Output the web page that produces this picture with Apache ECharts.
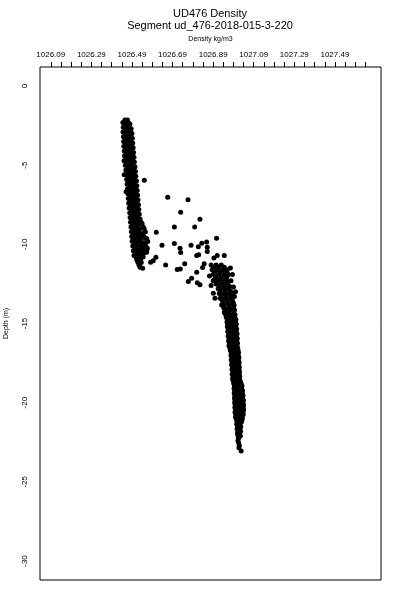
<!DOCTYPE html>
<html><head><meta charset="utf-8">
<script src="https://cdn.jsdelivr.net/npm/echarts@6/dist/echarts.min.js"></script>
<style>html,body{margin:0;padding:0;background:#fff}#c{width:400px;height:600px}</style>
</head><body><div id="c"></div>
<script>
const titleText = 'UD476 Density';
const subtitleText = 'Segment ud_476-2018-015-3-220';
const xName = 'Density kg/m3';
const yName = 'Depth (m)';
const xRange = [1026.037, 1027.717];
const yRange = [-31.2, 1.2];
const xTickValues = [1026.09,1026.14,1026.19,1026.24,1026.29,1026.34,1026.39,1026.44,1026.49,1026.54,1026.59,1026.64,1026.69,1026.74,1026.79,1026.84,1026.89,1026.94,1026.99,1027.04,1027.09,1027.14,1027.19,1027.24,1027.29,1027.34,1027.39,1027.44,1027.49,1027.54,1027.59,1027.64];
const xLabelValues = [1026.09,1026.29,1026.49,1026.69,1026.89,1027.09,1027.29,1027.49];
const yLabelValues = [0,-5,-10,-15,-20,-25,-30];

// [density, depth]
const upperStrand = [
[1026.455,-2.15],[1026.468,-2.15],
[1026.451,-2.30],[1026.463,-2.30],[1026.472,-2.30],
[1026.456,-2.45],[1026.469,-2.45],
[1026.452,-2.60],[1026.465,-2.60],[1026.475,-2.60],
[1026.457,-2.75],[1026.470,-2.75],[1026.481,-2.75],
[1026.452,-2.90],[1026.464,-2.90],[1026.478,-2.90],
[1026.458,-3.05],[1026.471,-3.05],[1026.484,-3.05],
[1026.453,-3.20],[1026.466,-3.20],[1026.480,-3.20],
[1026.459,-3.35],[1026.473,-3.35],[1026.485,-3.35],
[1026.454,-3.50],[1026.468,-3.50],[1026.482,-3.50],
[1026.460,-3.65],[1026.474,-3.65],[1026.488,-3.65],
[1026.456,-3.80],[1026.470,-3.80],[1026.484,-3.80],
[1026.462,-3.95],[1026.476,-3.95],[1026.490,-3.95],
[1026.458,-4.10],[1026.472,-4.10],[1026.487,-4.10],
[1026.463,-4.25],[1026.478,-4.25],[1026.492,-4.25],
[1026.459,-4.40],[1026.474,-4.40],[1026.489,-4.40],
[1026.465,-4.55],[1026.480,-4.55],[1026.493,-4.55],
[1026.461,-4.70],[1026.476,-4.70],[1026.491,-4.70],
[1026.468,-4.85],[1026.482,-4.85],[1026.496,-4.85],
[1026.464,-5.00],[1026.478,-5.00],[1026.493,-5.00],
[1026.470,-5.15],[1026.484,-5.15],[1026.498,-5.15],
[1026.466,-5.30],[1026.480,-5.30],[1026.495,-5.30],
[1026.472,-5.45],[1026.486,-5.45],[1026.500,-5.45],
[1026.468,-5.60],[1026.482,-5.60],[1026.497,-5.60],
[1026.474,-5.75],[1026.488,-5.75],[1026.502,-5.75],
[1026.470,-5.90],[1026.485,-5.90],[1026.499,-5.90],
[1026.476,-6.05],[1026.490,-6.05],[1026.505,-6.05],
[1026.472,-6.20],[1026.487,-6.20],[1026.502,-6.20],
[1026.478,-6.35],[1026.492,-6.35],[1026.507,-6.35],
[1026.474,-6.50],[1026.489,-6.50],[1026.504,-6.50],
[1026.480,-6.65],[1026.494,-6.65],[1026.509,-6.65],
[1026.476,-6.80],[1026.491,-6.80],[1026.506,-6.80],
[1026.482,-6.95],[1026.496,-6.95],[1026.511,-6.95],
[1026.478,-7.10],[1026.493,-7.10],[1026.508,-7.10],
[1026.484,-7.25],[1026.498,-7.25],[1026.513,-7.25],
[1026.480,-7.40],[1026.495,-7.40],[1026.510,-7.40],
[1026.486,-7.55],[1026.500,-7.55],[1026.515,-7.55],
[1026.482,-7.70],[1026.497,-7.70],[1026.512,-7.70],
[1026.488,-7.85],[1026.502,-7.85],[1026.517,-7.85],
[1026.485,-8.00],[1026.499,-8.00],[1026.514,-8.00],
[1026.490,-8.15],[1026.504,-8.15],[1026.518,-8.15],
[1026.487,-8.30],[1026.501,-8.30],[1026.516,-8.30],
[1026.492,-8.45],[1026.506,-8.45],[1026.520,-8.45],
[1026.489,-8.60],[1026.503,-8.60],[1026.518,-8.60],[1026.535,-8.60],
[1026.494,-8.75],[1026.508,-8.75],[1026.523,-8.75],
[1026.491,-8.90],[1026.506,-8.90],[1026.520,-8.90],[1026.545,-8.90],
[1026.496,-9.05],[1026.511,-9.05],[1026.527,-9.05],
[1026.493,-9.20],[1026.508,-9.20],[1026.524,-9.20],[1026.556,-9.20],
[1026.498,-9.35],[1026.513,-9.35],[1026.530,-9.35],
[1026.495,-9.50],[1026.510,-9.50],[1026.527,-9.50],[1026.548,-9.50],
[1026.500,-9.65],[1026.516,-9.65],[1026.534,-9.65],[1026.563,-9.65],
[1026.497,-9.80],[1026.513,-9.80],[1026.530,-9.80],
[1026.503,-9.95],[1026.519,-9.95],[1026.540,-9.95],[1026.555,-9.95],
[1026.500,-10.10],[1026.516,-10.10],[1026.533,-10.10],
[1026.505,-10.25],[1026.522,-10.25],[1026.545,-10.25],[1026.566,-10.25],
[1026.503,-10.40],[1026.519,-10.40],[1026.537,-10.40],
[1026.508,-10.55],[1026.525,-10.55],[1026.550,-10.55],
[1026.506,-10.70],[1026.522,-10.70],[1026.538,-10.70],
[1026.512,-10.85],[1026.528,-10.85],
[1026.515,-11.00],[1026.532,-11.00],
[1026.520,-11.15],[1026.536,-11.15],
[1026.525,-11.30],
[1026.530,-11.45]
];

const upperLeftEdge = [
[1026.445,-2.30],[1026.447,-2.60],[1026.446,-2.90],[1026.448,-3.20],[1026.449,-3.50],
[1026.450,-3.80],[1026.452,-4.10],[1026.453,-4.40],[1026.455,-4.70],[1026.457,-5.00],
[1026.460,-5.30],[1026.461,-5.60],[1026.464,-5.90],[1026.466,-6.20],[1026.468,-6.50],
[1026.470,-6.80],[1026.472,-7.10],[1026.474,-7.40],[1026.476,-7.70],[1026.479,-8.00],
[1026.481,-8.30],[1026.483,-8.60],[1026.485,-8.90],[1026.487,-9.20],[1026.489,-9.50],
[1026.491,-9.80],[1026.494,-10.10],[1026.497,-10.40],[1026.500,-10.70]
];

const upperRightEdge = [
[1026.480,-2.40],[1026.486,-2.70],[1026.490,-3.00],[1026.492,-3.30],[1026.494,-3.60],
[1026.496,-3.90],[1026.498,-4.20],[1026.500,-4.50],[1026.502,-4.80],[1026.505,-5.10],
[1026.507,-5.40],[1026.509,-5.70],[1026.512,-6.00],[1026.514,-6.30],[1026.516,-6.60],
[1026.518,-6.90],[1026.520,-7.20],[1026.522,-7.50],[1026.524,-7.80],[1026.526,-8.10],
[1026.530,-8.40],[1026.540,-8.70],[1026.550,-9.00],[1026.545,-9.30],[1026.556,-9.60],
[1026.548,-9.90],[1026.555,-10.20],[1026.562,-10.50],[1026.545,-10.80]
];

const transitionPoints = [
[1026.451,-4.72],[1026.452,-5.61],[1026.461,-6.68],[1026.551,-5.96],
[1026.666,-7.02],[1026.766,-7.19],[1026.730,-7.97],[1026.825,-8.41],
[1026.699,-8.90],[1026.799,-8.91],[1026.610,-9.23],[1026.907,-9.61],
[1026.638,-10.05],[1026.699,-9.95],[1026.781,-10.05],[1026.817,-10.16],
[1026.834,-9.93],[1026.858,-9.86],[1026.861,-10.18],[1026.727,-10.24],
[1026.730,-10.52],[1026.809,-10.71],[1026.819,-10.66],[1026.861,-10.46],
[1026.910,-10.71],[1026.894,-10.87],[1026.945,-10.71],[1026.656,-11.30],
[1026.750,-11.23],[1026.728,-11.55],[1026.713,-11.59],[1026.595,-11.04],
[1026.608,-10.81],[1026.582,-11.13],[1026.543,-11.51],[1026.528,-11.23],
[1026.846,-11.23],[1026.838,-11.47],[1026.809,-11.76],[1026.784,-12.14],
[1026.768,-12.35],[1026.812,-12.42],[1026.825,-12.56],[1026.891,-13.09],
[1026.899,-13.40],[1026.932,-13.83],[1026.551,-10.14],[1026.563,-10.35],
[1026.568,-9.82],[1026.559,-10.14]
];

const lowerStrand = [
[1026.880,-11.30],[1026.905,-11.30],[1026.930,-11.30],
[1026.892,-11.45],[1026.918,-11.45],[1026.945,-11.45],
[1026.885,-11.60],[1026.910,-11.60],[1026.938,-11.60],[1026.960,-11.60],
[1026.898,-11.75],[1026.925,-11.75],[1026.950,-11.75],
[1026.890,-11.90],[1026.918,-11.90],[1026.945,-11.90],[1026.965,-11.90],
[1026.905,-12.05],[1026.932,-12.05],[1026.958,-12.05],
[1026.898,-12.20],[1026.925,-12.20],[1026.952,-12.20],
[1026.912,-12.35],[1026.940,-12.35],[1026.965,-12.35],
[1026.905,-12.50],[1026.932,-12.50],[1026.958,-12.50],
[1026.920,-12.65],[1026.945,-12.65],[1026.970,-12.65],
[1026.915,-12.80],[1026.940,-12.80],[1026.965,-12.80],
[1026.925,-12.95],[1026.950,-12.95],[1026.975,-12.95],
[1026.920,-13.10],[1026.945,-13.10],[1026.970,-13.10],[1026.988,-13.10],
[1026.930,-13.25],[1026.955,-13.25],[1026.980,-13.25],
[1026.925,-13.40],[1026.950,-13.40],[1026.975,-13.40],
[1026.935,-13.55],[1026.960,-13.55],[1026.985,-13.55],
[1026.940,-13.70],[1026.965,-13.70],[1026.990,-13.70],
[1026.945,-13.85],[1026.970,-13.85],[1026.993,-13.85],
[1026.942,-14.00],[1026.966,-14.00],[1026.990,-14.00],
[1026.948,-14.15],[1026.972,-14.15],[1026.995,-14.15],
[1026.945,-14.30],[1026.968,-14.30],[1026.992,-14.30],
[1026.952,-14.45],[1026.975,-14.45],[1026.998,-14.45],
[1026.955,-14.60],[1026.978,-14.60],[1026.996,-14.60],
[1026.960,-14.75],[1026.982,-14.75],[1027.002,-14.75],
[1026.958,-14.90],[1026.980,-14.90],[1026.999,-14.90],
[1026.963,-15.05],[1026.984,-15.05],[1027.004,-15.05],
[1026.960,-15.20],[1026.982,-15.20],[1027.001,-15.20],
[1026.965,-15.35],[1026.986,-15.35],[1027.006,-15.35],
[1026.962,-15.50],[1026.984,-15.50],[1027.003,-15.50],
[1026.967,-15.65],[1026.988,-15.65],[1027.008,-15.65],
[1026.964,-15.80],[1026.985,-15.80],[1027.005,-15.80],
[1026.969,-15.95],[1026.990,-15.95],[1027.009,-15.95],
[1026.966,-16.10],[1026.987,-16.10],[1027.006,-16.10],
[1026.971,-16.25],[1026.992,-16.25],[1027.010,-16.25],
[1026.968,-16.40],[1026.989,-16.40],[1027.007,-16.40],
[1026.973,-16.55],[1026.994,-16.55],[1027.011,-16.55],
[1026.975,-16.70],[1026.995,-16.70],[1027.013,-16.70],
[1026.980,-16.85],[1027.000,-16.85],[1027.015,-16.85],
[1026.978,-17.00],[1026.997,-17.00],[1027.013,-17.00],
[1026.982,-17.15],[1027.001,-17.15],[1027.017,-17.15],
[1026.979,-17.30],[1026.998,-17.30],[1027.014,-17.30],
[1026.984,-17.45],[1027.003,-17.45],[1027.018,-17.45],
[1026.981,-17.60],[1027.000,-17.60],[1027.016,-17.60],
[1026.986,-17.75],[1027.005,-17.75],[1027.019,-17.75],
[1026.983,-17.90],[1027.002,-17.90],[1027.017,-17.90],
[1026.987,-18.05],[1027.006,-18.05],[1027.020,-18.05],
[1026.984,-18.20],[1027.003,-18.20],[1027.018,-18.20],
[1026.988,-18.35],[1027.007,-18.35],[1027.021,-18.35],
[1026.986,-18.50],[1027.005,-18.50],[1027.019,-18.50],
[1026.990,-18.65],[1027.009,-18.65],[1027.024,-18.65],
[1026.992,-18.80],[1027.012,-18.80],[1027.028,-18.80],
[1026.995,-18.95],[1027.015,-18.95],[1027.032,-18.95],
[1026.993,-19.10],[1027.012,-19.10],[1027.030,-19.10],
[1026.996,-19.25],[1027.016,-19.25],[1027.035,-19.25],
[1026.994,-19.40],[1027.014,-19.40],[1027.033,-19.40],
[1026.997,-19.55],[1027.017,-19.55],[1027.037,-19.55],
[1026.995,-19.70],[1027.015,-19.70],[1027.035,-19.70],
[1026.998,-19.85],[1027.018,-19.85],[1027.039,-19.85],
[1026.996,-20.00],[1027.016,-20.00],[1027.037,-20.00],
[1026.999,-20.15],[1027.019,-20.15],[1027.040,-20.15],
[1026.997,-20.30],[1027.017,-20.30],[1027.038,-20.30],
[1027.000,-20.45],[1027.020,-20.45],[1027.040,-20.45],
[1026.998,-20.60],[1027.018,-20.60],[1027.037,-20.60],
[1027.002,-20.75],[1027.021,-20.75],[1027.038,-20.75],
[1027.000,-20.90],[1027.018,-20.90],[1027.034,-20.90],
[1027.005,-21.05],[1027.022,-21.05],[1027.033,-21.05],
[1027.008,-21.20],[1027.020,-21.20],[1027.030,-21.20],
[1027.006,-21.35],[1027.023,-21.35],
[1027.010,-21.50],[1027.026,-21.50],
[1027.008,-21.65],[1027.022,-21.65],
[1027.012,-21.80],[1027.025,-21.80],
[1027.010,-21.95],[1027.021,-21.95],
[1027.013,-22.10],[1027.024,-22.10],
[1027.015,-22.25],
[1027.012,-22.40],
[1027.016,-22.55],
[1027.019,-22.70],
[1027.017,-22.85],
[1027.028,-23.05]
];

const lowerClusterExtra = [
[1026.975,-11.50],[1026.985,-11.90],[1026.978,-12.30],[1026.990,-12.70],
[1026.995,-13.30],[1027.000,-13.00],[1026.872,-12.00],[1026.880,-12.60],[1026.890,-12.30]
];

const FONT = 'Liberation Sans, Arial, Helvetica, sans-serif';
const chart = echarts.init(document.getElementById('c'), null, {renderer: 'canvas'});
chart.setOption({
  animation: false,
  backgroundColor: '#fff',
  graphic: [
    {type: 'text', x: 210, y: 13.5, style: {text: titleText, textAlign: 'center', textVerticalAlign: 'middle', font: '11px ' + FONT, fill: '#000'}},
    {type: 'text', x: 210, y: 25.5, style: {text: subtitleText, textAlign: 'center', textVerticalAlign: 'middle', font: '11px ' + FONT, fill: '#000'}}
  ],
  grid: {left: 40, top: 67, width: 341, height: 513, show: true, borderColor: '#000', borderWidth: 1, backgroundColor: 'transparent', containLabel: false, outerBoundsMode: 'none'},
  xAxis: {
    type: 'value', position: 'top', min: xRange[0], max: xRange[1],
    name: xName, nameLocation: 'middle', nameGap: 24,
    nameTextStyle: {fontSize: 7, color: '#000', fontFamily: FONT},
    axisLine: {show: false, onZero: false},
    axisTick: {show: true, length: 5, customValues: xTickValues, lineStyle: {color: '#000', width: 1}},
    axisLabel: {customValues: xLabelValues, formatter: v => v.toFixed(2), fontSize: 8, margin: 8, color: '#000', fontFamily: FONT},
    splitLine: {show: false}
  },
  yAxis: {
    type: 'value', min: yRange[0], max: yRange[1],
    name: yName, nameLocation: 'middle', nameGap: 30, nameRotate: 90,
    nameTextStyle: {fontSize: 7, color: '#000', fontFamily: FONT},
    axisLine: {show: false, onZero: false},
    axisTick: {show: false},
    axisLabel: {customValues: yLabelValues, rotate: 90, fontSize: 8, margin: 11, color: '#000', fontFamily: FONT},
    splitLine: {show: false}
  },
  series: [{
    type: 'scatter', symbol: 'circle', symbolSize: 5,
    itemStyle: {color: '#000', opacity: 1},
    data: upperStrand.concat(upperLeftEdge, upperRightEdge, transitionPoints, lowerStrand, lowerClusterExtra),
    silent: true
  }]
});
</script>
</body></html>
